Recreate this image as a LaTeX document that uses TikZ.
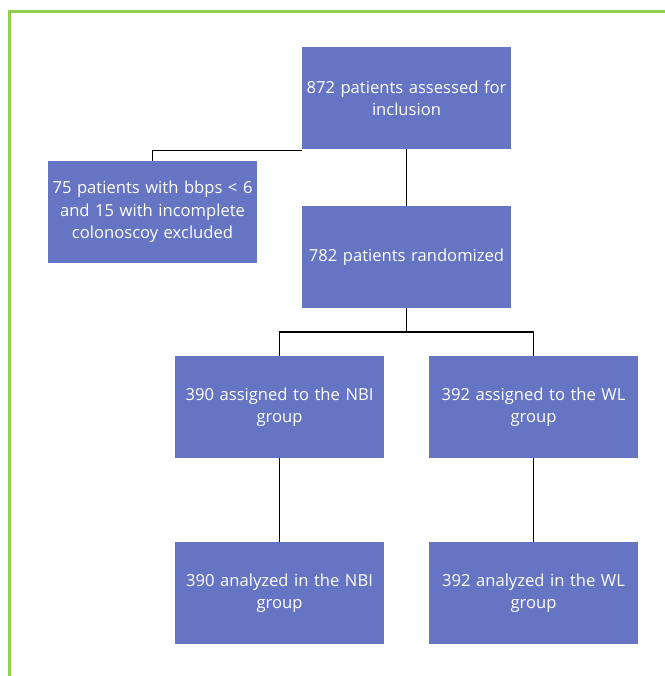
\documentclass[tikz,border=0pt]{standalone}
\usepackage{fontspec}
\setmainfont{Open Sans}
\definecolor{boxblue}{RGB}{101,117,196}
\definecolor{framegreen}{RGB}{146,208,80}
\begin{document}
\begin{tikzpicture}[x=1pt,y=-1pt,
  box/.style={fill=boxblue,draw=none,minimum width=209pt,minimum height=102pt,
    text=white,align=center,text width=207pt,inner sep=0pt,
    font=\fontsize{16.6}{22.5}\selectfont},
  conn/.style={draw=black,line width=1.8pt}]
\useasboundingbox (0,0) rectangle (664,676);
\fill[white] (0,0) rectangle (664,676);
\draw[framegreen,line width=3pt] (9.5,680) -- (9.5,12) -- (670,12);
\node[box] (top) at (406.5,98) {872 patients assessed for\\inclusion};
\node[box] (excl) at (152.5,212) {75 patients with bbps < 6\\and 15 with incomplete\\colonoscoy excluded};
\node[box] (rand) at (406.5,257) {782 patients randomized};
\node[box] (nbi) at (279.5,407) {390 assigned to the NBI\\group};
\node[box] (wl) at (533.5,407) {392 assigned to the WL\\group};
\node[box] (nbia) at (279.5,593) {390 analyzed in the NBI\\group};
\node[box] (wla) at (533.5,593) {392 analyzed in the WL\\group};
\coordinate (mid) at (406.5,332);
\coordinate (ex) at (302,150.5);
\draw[conn] (top) -- (rand);
\draw[conn] (excl.north) |- (ex);
\draw[conn] (rand.south) -- (mid);
\draw[conn] (nbi.north) |- (mid) -| (wl.north);
\draw[conn] (nbi) -- (nbia);
\draw[conn] (wl) -- (wla);
\end{tikzpicture}
\end{document}
